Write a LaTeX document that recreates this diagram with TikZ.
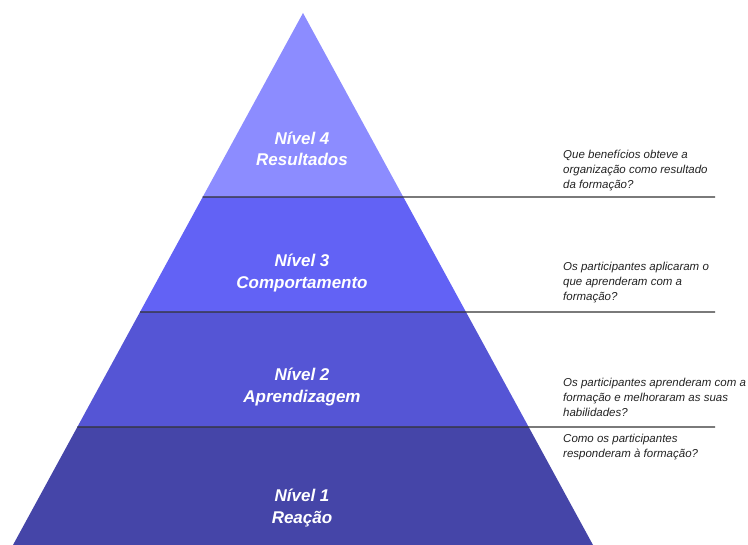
\documentclass[tikz,border=0pt]{standalone}
\usepackage{fontspec}
\setmainfont{Liberation Sans}
\usetikzlibrary{calc}
\definecolor{lvfour}{HTML}{8C8CFF}
\definecolor{lvthree}{HTML}{6262F5}
\definecolor{lvtwo}{HTML}{5555D5}
\definecolor{lvone}{HTML}{4545A8}
\definecolor{sepline}{HTML}{333333}
\definecolor{qtext}{HTML}{222222}
\tikzset{
  levellabel/.style={text=white, font=\fontsize{17}{21.5}\selectfont\bfseries\itshape, align=center},
  question/.style={text=qtext, font=\fontsize{11.5}{15}\selectfont\itshape, align=left, anchor=west, inner sep=0pt},
  divider/.style={draw=sepline, line width=1.2pt},
}
\begin{document}
\begin{tikzpicture}[x=1pt, y=-1pt]
  \useasboundingbox (0,0) rectangle (748,545);
  % pyramid outline: apex and base corners
  \coordinate (apex) at (303,13);
  \coordinate (bl) at (13,545);
  \coordinate (br) at (593,545);
  % points where the dividers meet the sloping sides
  \foreach \name/\yy in {a/197, b/312, c/427} {
    \coordinate (\name L) at ($(apex)!{(\yy-13)/532}!(bl)$);
    \coordinate (\name R) at ($(apex)!{(\yy-13)/532}!(br)$);
  }
  % bands from top to bottom
  \fill[lvfour]  (apex) -- (aR) -- (aL) -- cycle;
  \fill[lvthree] (aL) -- (aR) -- (bR) -- (bL) -- cycle;
  \fill[lvtwo]   (bL) -- (bR) -- (cR) -- (cL) -- cycle;
  \fill[lvone]   (cL) -- (cR) -- (br) -- (bl) -- cycle;
  % dividers running out to the question column
  \coordinate (aE) at (715,197);
  \coordinate (bE) at (715,312);
  \coordinate (cE) at (715,427);
  \draw[divider] (aL) -- (aE);
  \draw[divider] (bL) -- (bE);
  \draw[divider] (cL) -- (cE);
  % level names
  \node[levellabel] (n4) at (302,149) {Nível 4\\Resultados};
  \node[levellabel] (n3) at (302,273) {Nível 3\\Comportamento};
  \node[levellabel] (n2) at (302,387) {Nível 2\\Aprendizagem};
  \node[levellabel] (n1) at (302,508) {Nível 1\\Reação};
  % evaluation questions
  \node[question] (q4) at (563,170) {Que benefícios obteve a\\organização como resultado\\da formação?};
  \node[question] (q3) at (563,283) {Os participantes aplicaram o\\que aprenderam com a\\formação?};
  \node[question] (q2) at (563,397) {Os participantes aprenderam com a\\formação e melhoraram as suas\\habilidades?};
  \node[question] (q1) at (563,447) {Como os participantes\\responderam à formação?};
\end{tikzpicture}
\end{document}
